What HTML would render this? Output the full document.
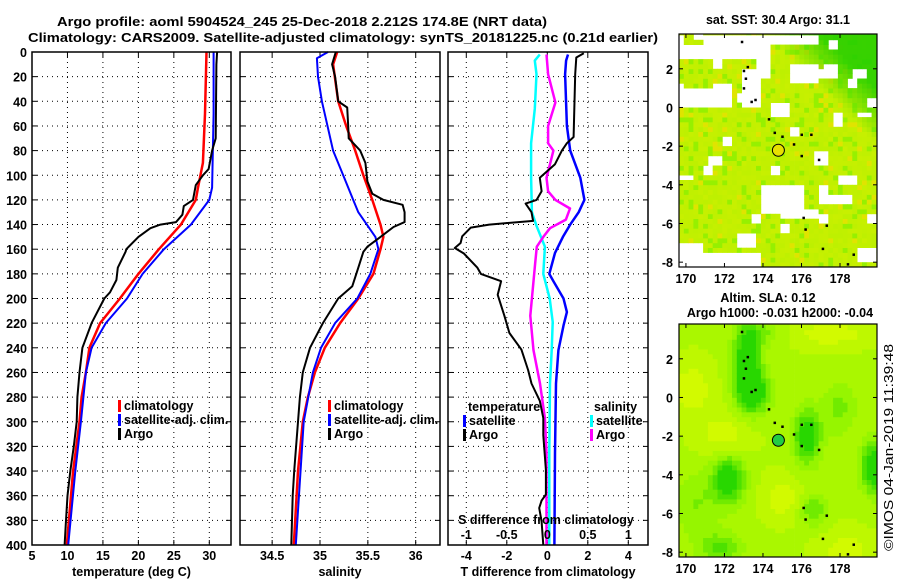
<!DOCTYPE html>
<html><head><meta charset="utf-8">
<style>
html,body{margin:0;padding:0;background:#fff;}
svg{display:block;font-family:"Liberation Sans",sans-serif;font-weight:bold;}
text{font-size:12.5px;fill:#000;}
</style></head>
<body>
<svg id="fig" width="900" height="580" viewBox="0 0 900 580" xmlns="http://www.w3.org/2000/svg">
<text x="302" y="26" text-anchor="middle" textLength="490" lengthAdjust="spacingAndGlyphs" font-size="14">Argo profile: aoml 5904524_245 25-Dec-2018 2.212S 174.8E (NRT data)</text>
<text x="343" y="42" text-anchor="middle" textLength="630" lengthAdjust="spacingAndGlyphs" font-size="14">Climatology: CARS2009. Satellite-adjusted climatology: synTS_20181225.nc (0.21d earlier)</text>
<g id="panels"></g>
<g id="maps"></g>
<text transform="translate(893,551) rotate(-90)" font-size="12.5" font-weight="normal" textLength="207" lengthAdjust="spacingAndGlyphs">©IMOS 04-Jan-2019 11:39:48</text>
</svg>
<script>
// ---------- DATA ----------
const argoTP=[0,10,70,80,95,100,108,120,125,132,138,140,143,150,160,162,175,185,195,200,220,240,260,280,300,320,340,360,380,400];
const argoT=[31.1,31.0,30.9,30.4,29.9,29.1,28.1,27.7,26.4,26.2,25.3,23.1,21.7,20.0,18.3,18.2,17.1,16.9,16.0,15.2,13.4,12.1,11.7,11.4,11.3,10.9,10.4,10.0,9.8,9.6];
const climTP=[0,50,90,110,120,140,160,180,200,220,240,260,280,300,340,400];
const climT=[29.6,29.4,29.1,28.4,28.1,26.0,22.9,20.0,17.4,14.6,13.1,12.6,12.0,11.7,10.8,9.9];
const satTP=[0,50,110,120,140,160,180,200,220,240,260,300,340,400];
const satT=[30.6,30.6,30.4,30.0,27.4,23.6,20.6,18.4,15.4,13.4,12.6,11.9,11.1,10.1];
const argoSP=[0,10,20,40,45,60,70,80,90,105,115,120,124,130,138,142,150,158,162,175,190,200,220,240,260,280,300,340,360,400];
const argoS=[35.165,35.126,35.158,35.19,35.284,35.295,35.30,35.42,35.474,35.495,35.547,35.663,35.863,35.884,35.884,35.768,35.632,35.495,35.453,35.40,35.337,35.19,35.03,34.895,34.82,34.79,34.77,34.73,34.715,34.70];
const climSP=[0,10,40,60,80,100,120,140,150,160,180,200,220,240,260,280,300,340,400];
const climS=[35.18,35.137,35.19,35.274,35.368,35.453,35.547,35.632,35.663,35.632,35.558,35.40,35.21,35.05,34.947,34.874,34.82,34.77,34.726];
const satSP=[0,5,20,40,80,100,120,130,150,160,180,200,220,240,260,300,400];
const satS=[35.084,34.968,34.979,35.02,35.137,35.242,35.347,35.40,35.579,35.61,35.526,35.39,35.158,35.01,34.926,34.83,34.747];
const dArgoTP=[1,4.5,18,69,74,80,91,102,113,120,123,130,137,140,142.5,149.5,155,159,163.5,175,180,186,197,214,228,241.5,258,269,283,297,311,339,359,364,370,381,400];
const dArgoT=[1.8,1.43,1.38,1.3,0.97,0.72,0.38,-0.37,-0.28,-0.53,-1.07,-0.78,-0.7,-2.87,-3.78,-4.2,-4.28,-4.57,-4.12,-3.45,-3.28,-2.28,-2.45,-2.12,-1.87,-1.28,-0.95,-0.78,-0.37,-0.2,-0.2,-0.07,-0.07,-0.28,-0.4,-0.28,-0.2];
const dSatTP=[2,7,18,60,80,102,120,130,140,150,163,180,186,200,211,222,242,269,325,400];
const dSatT=[1.02,0.93,0.88,0.97,1.13,1.63,1.83,1.55,1.13,0.77,0.38,0.1,0.3,0.8,0.97,0.8,0.55,0.43,0.38,0.35];
const dSatSP=[2,7,18,46,74,102,130,141,158,180,200,219,242,269,325,400];
const dSatS=[-0.092,-0.154,-0.133,-0.154,-0.2,-0.2,-0.19,-0.133,-0.03,-0.05,0.03,0.067,0.054,0.033,0.025,0.025];
const dArgoSP=[2,18,41,60,74,80,91,102,113,120,127,136,143,150,158,172,186,214,242,269,297,325,400];
const dArgoS=[-0.01,0.01,0.1,0.01,0.01,0.075,0.033,-0.01,0.01,0.1,0.28,0.23,0.033,-0.05,-0.13,-0.15,-0.17,-0.21,-0.17,-0.09,-0.03,-0.01,-0.01];
const presTicks=[0,20,40,60,80,100,120,140,160,180,200,220,240,260,280,300,320,340,360,380,400];
const tempTicks=[5,10,15,20,25,30];
const salTicks=[34.5,35,35.5,36];
const dTTicks=[-4,-2,0,2,4];
const dSTickLabels=['-1','-0.5','0','0.5','1'];
const lonTicks=[170,172,174,176,178];
const latTicks=[2,0,-2,-4,-6,-8];
const argoLon=174.8, argoLat=-2.212;

// ---------- HELPERS ----------
const NS='http://www.w3.org/2000/svg';
function mk(tag,attrs,parent,txt){const e=document.createElementNS(NS,tag);for(const k in attrs)e.setAttribute(k,attrs[k]);if(txt!==undefined)e.textContent=txt;parent.appendChild(e);return e;}
const top0=52,bot0=545;
const yP=p=>top0+p*(bot0-top0)/400;
function lin(d0,d1,r0,r1){return v=>r0+(v-d0)*(r1-r0)/(d1-d0);}
const panels=document.getElementById('panels');

function panel(name,x0,x1,xs,xTicks,xLabels,title,showY){
  const g=mk('g',{},panels);
  
  
  presTicks.forEach(p=>{if(p>0&&p<400){const l=mk('line',{x1:x0,x2:x1,y1:yP(p),y2:yP(p),stroke:'#000','stroke-width':1,'stroke-dasharray':'1,4'},g);}});
  xTicks.forEach((v,i)=>{const x=xs(v);const l=mk('line',{x1:x,x2:x,y1:top0,y2:bot0,stroke:'#000','stroke-width':1,'stroke-dasharray':'1,4'},g);
    mk('line',{x1:x,x2:x,y1:bot0,y2:bot0-5,stroke:'#000'},g);mk('line',{x1:x,x2:x,y1:top0,y2:top0+5,stroke:'#000'},g);
    const t=mk('text',{x:x,y:560,'text-anchor':'middle'},g,xLabels[i]);});
  presTicks.forEach(p=>{mk('line',{x1:x0,x2:x0+5,y1:yP(p),y2:yP(p),stroke:'#000'},g);mk('line',{x1:x1,x2:x1-5,y1:yP(p),y2:yP(p),stroke:'#000'},g);
    if(showY){const t=mk('text',{x:27,y:yP(p)+5,'text-anchor':'end'},g,String(p));}});
  const t=mk('text',{x:(x0+x1)/2,y:576,'text-anchor':'middle'},g,title);
  return g;
}
function frame(g,x0,x1){const r=mk('rect',{x:x0,y:top0,width:x1-x0,height:bot0-top0,fill:'none',stroke:'#000','stroke-width':1.5},g);}
function series(g,ps,vs,xs,color,w,name){
  const pts=ps.map((p,i)=>xs(vs[i]).toFixed(1)+','+yP(p).toFixed(1)).join(' ');
  const l=mk('polyline',{points:pts,fill:'none',stroke:color,'stroke-width':w,'stroke-linejoin':'round'},g);
  
  
}
function legendEntry(g,x,y,color,label,name){
  if(color)mk('rect',{x:x,y:y-10,width:3,height:12,fill:color},g);
  const t=mk('text',{x:x+(color?6:0),y:y},g,label);
  
  
}

const xT=lin(5,30,32,209.3);
const gT=panel('temperature-panel',32,231,xT,tempTicks,tempTicks.map(String),'temperature (deg C)',true);
series(gT,climTP,climT,xT,'#f00',2.5,'temp-climatology-line');
series(gT,satTP,satT,xT,'#00f',2,'temp-satellite-line');
series(gT,argoTP,argoT,xT,'#000',2,'temp-argo-line');
legendEntry(gT,118,410,'#f00','climatology','legend-climatology');
legendEntry(gT,118,424,'#00f','satellite-adj. clim.','legend-satellite-adj');
legendEntry(gT,118,438,'#000','Argo','legend-argo');
frame(gT,32,231);

const xS=lin(35,36,320,415.7);
const gS=panel('salinity-panel',240,440,xS,salTicks,salTicks.map(String),'salinity',false);
series(gS,climSP,climS,xS,'#f00',2.5,'sal-climatology-line');
series(gS,satSP,satS,xS,'#00f',2,'sal-satellite-line');
series(gS,argoSP,argoS,xS,'#000',2,'sal-argo-line');
legendEntry(gS,328,410,'#f00','climatology','legend-climatology');
legendEntry(gS,328,424,'#00f','satellite-adj. clim.','legend-satellite-adj');
legendEntry(gS,328,438,'#000','Argo','legend-argo');
frame(gS,240,440);

const xD=lin(0,4,547.3,628.3);
const xDS=s=>xD(s*4);
const gD=panel('difference-panel',448,648,xD,dTTicks,dTTicks.map(String),'T difference from climatology',false);
series(gD,dSatSP,dSatS,xDS,'#0ff',2.5,'diff-sal-satellite-line');
series(gD,dArgoSP,dArgoS,xDS,'#f0f',2.5,'diff-sal-argo-line');
series(gD,dSatTP,dSatT,xD,'#00f',2.5,'diff-temp-satellite-line');
series(gD,dArgoTP,dArgoT,xD,'#000',2,'diff-temp-argo-line');
legendEntry(gD,468,411,null,'temperature','legend-temperature-head');
legendEntry(gD,463,425,'#00f','satellite','legend-temp-satellite');
legendEntry(gD,463,439,'#000','Argo','legend-temp-argo');
legendEntry(gD,594,411,null,'salinity','legend-salinity-head');
legendEntry(gD,590,425,'#0ff','satellite','legend-sal-satellite');
legendEntry(gD,590,439,'#f0f','Argo','legend-sal-argo');
{const t=mk('text',{x:546,y:524,'text-anchor':'middle'},gD,'S difference from climatology');}
[-1,-0.5,0,0.5,1].forEach((s,i)=>{const t=mk('text',{x:xDS(s),y:539,'text-anchor':'middle'},gD,dSTickLabels[i]);});
frame(gD,448,648);

// ---------- MAPS ----------
const maps=document.getElementById('maps');
function hash(i,j,s){let h=(i*374761393+j*668265263+s*982451653)|0;h=(h^(h>>>13))*1274126177|0;return ((h^(h>>>16))>>>0)/4294967295;}
function mix(a,b,t){return a.map((v,i)=>Math.round(v+(b[i]-v)*t));}
function rgb(c){return 'rgb('+c.join(',')+')';}
const islands=[[172.9,3.4],[173.0,1.9],[173.1,1.5],[173.2,2.1],[173.0,1.0],[173.4,0.3],[173.6,0.4],[174.3,-0.6],[174.6,-1.3],[175.0,-1.5],[175.6,-1.9],[176.0,-1.4],[176.5,-1.4],[176.0,-2.5],[176.9,-2.7],[176.1,-5.7],[176.2,-6.3],[177.3,-6.1],[177.1,-7.3],[178.7,-7.6],[178.4,-8.1]];
function map(name,x0,y0,x1,y1,latTop,latBot,cellFn,markerFill){
  const g=mk('g',{},maps);
  
  
  const lonL=169.64,lonR=179.92;
  const X=lin(lonL,lonR,x0,x1),Y=lin(latTop,latBot,y0,y1);
  const step=0.25;
  for(let lo=lonL;lo<lonR;lo+=step){for(let la=latBot;la<latTop;la+=step){
    const c=cellFn(lo+step/2,la+step/2,Math.round(lo*4),Math.round(la*4));
    if(!c)continue;
    const xa=X(lo),xb=X(Math.min(lo+step,lonR)),ya=Y(Math.min(la+step,latTop)),yb=Y(la);
    mk('rect',{x:xa.toFixed(1),y:ya.toFixed(1),width:(xb-xa+0.4).toFixed(1),height:(yb-ya+0.4).toFixed(1),fill:c},g);
  }}
  islands.forEach(p=>{mk('rect',{x:X(p[0])-1,y:Y(p[1])-1,width:2.5,height:2.5,fill:'#000'},g);});
  const m=mk('circle',{cx:X(argoLon),cy:Y(argoLat),r:6,fill:markerFill,stroke:'#000','stroke-width':1},g);
  
  
  mk('rect',{x:x0,y:y0,width:x1-x0,height:y1-y0,fill:'none',stroke:'#000','stroke-width':1.2},g);
  lonTicks.forEach(v=>{const x=X(v);mk('line',{x1:x,x2:x,y1:y1,y2:y1-4,stroke:'#000'},g);mk('line',{x1:x,x2:x,y1:y0,y2:y0+4,stroke:'#000'},g);
    const t=mk('text',{x:x,y:y1+16,'text-anchor':'middle'},g,String(v));});
  latTicks.forEach(v=>{const y=Y(v);mk('line',{x1:x0,x2:x0+4,y1:y,y2:y,stroke:'#000'},g);mk('line',{x1:x1,x2:x1-4,y1:y,y2:y,stroke:'#000'},g);
    const t=mk('text',{x:x0-6,y:y+5,'text-anchor':'end'},g,String(v));});
  return g;
}
const whiteBoxes=[[170.9,173.7,2.5,3.8],[169.64,170.0,3.2,3.8],[169.64,171.5,2.5,3.2],[173.7,174.3,1.6,3.8],[174.3,177.0,3.3,3.8],[169.64,172.3,0.0,0.9],[169.64,170.0,0.9,1.3],[171.5,172.3,0.9,1.2],[173.0,174.0,0.1,1.9],[172.6,173.0,0.2,0.7],[175.3,176.9,1.2,2.2],[177.2,178.0,1.6,2.2],[178.6,179.3,1.6,2.1],[174.5,175.4,-0.6,0.3],[177.7,178.2,-0.9,-0.2],[173.9,176.1,-3.9,-5.5],[176.6,177.5,-2.3,-3.0],[171.0,173.9,-7.6,-8.25],[169.64,171.0,-7.1,-8.25],[176.8,178.6,-4.6,-4.9],[175.0,176.9,-5.3,-5.8],[172.6,173.6,-6.6,-7.2],[178.9,179.92,-7.3,-8.0],[178.8,179.6,-0.2,-0.5],[169.64,170.5,-3.5,-3.8],[171.2,172.0,-2.6,-3.0]];
function sstCell(lo,la,i,j){
  for(const b of whiteBoxes){if(lo>b[0]&&lo<b[1]&&la<Math.max(b[2],b[3])&&la>Math.min(b[2],b[3]))return null;}
  const bi=Math.floor(i/2),bj=Math.floor(j/2);
  if(hash(bi,bj,7)<0.05)return null;
  let t=0.5+0.5*(hash(i,j,3)-0.5);
  const green=Math.max(0,Math.min(1,((lo-177)*0.35+(la-1)*0.35)));
  let c=mix([184,240,0],[205,240,0],t);
  if(hash(i,j,5)<0.15)c=[150,240,0];
  if(hash(i,j,11)<0.06)c=[224,228,0];
  c=mix(c,[30,205,0],green*0.85);
  return rgb(c);
}
map('sst-map',679,34,877,267,3.8,-8.25,sstCell,'#e8e000');
const blobs=[[173.2,1.8,0.5,1.4,1.0],[173.6,0.2,0.6,0.7,0.7],[176.3,-2.0,0.5,1.0,0.85],[172.2,-4.2,0.6,0.9,0.9],[179.8,-3.6,0.5,0.9,1.0],[176.6,-5.8,0.5,0.6,0.5],[171.8,-7.8,0.8,0.6,0.5],[178.0,-0.5,0.6,1.0,0.35],[174.0,3.3,0.8,0.4,0.3],[170.5,-5.5,0.8,1.2,0.3]];
const yellows=[[172.0,-2.0,1.0,0.9],[175.0,-5.2,0.8,0.8],[177.5,3.3,1.5,0.5],[178.3,-8,1.0,0.8],[170.3,0.5,0.8,1.0]];
function slaCell(lo,la){
  let g=0.28;
  blobs.forEach(b=>{g+=b[4]*Math.exp(-(((lo-b[0])/b[2])**2+((la-b[1])/b[3])**2)/2);});
  yellows.forEach(b=>{g-=0.3*Math.exp(-(((lo-b[0])/b[2])**2+((la-b[1])/b[3])**2)/2);});
  g=Math.max(0,Math.min(1,g));
  const q=Math.round(g*6)/6;
  let c;
  if(q<0.5)c=mix([210,250,0],[150,245,0],q*2);else c=mix([150,245,0],[40,215,0],(q-0.5)*2);
  return rgb(c);
}
map('sla-map',679,324,877,557,3.8,-8.25,slaCell,'#22cc44');
{const t=mk('text',{x:778,y:24,'text-anchor':'middle'},maps,'sat. SST: 30.4 Argo: 31.1');}
{const t=mk('text',{x:768,y:302,'text-anchor':'middle'},maps,'Altim. SLA: 0.12');}
{const t=mk('text',{x:780,y:317,'text-anchor':'middle'},maps,'Argo h1000: -0.031 h2000: -0.04');}
</script>
</body></html>
